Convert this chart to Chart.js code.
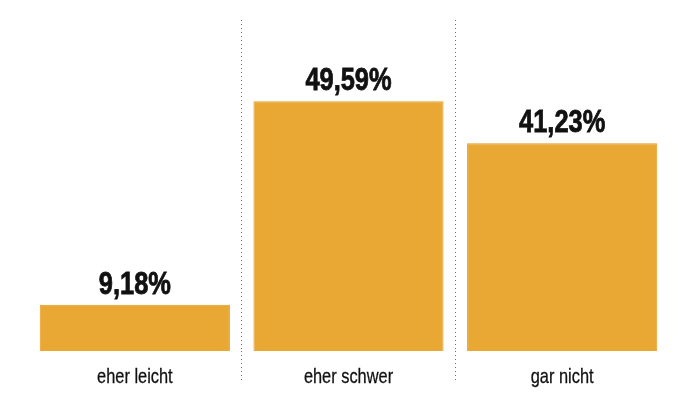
<!DOCTYPE html>
<html>
<head>
<meta charset="utf-8">
<script src="https://cdn.jsdelivr.net/npm/chart.js@4/dist/chart.umd.min.js"></script>
<style>
  html, body { margin: 0; padding: 0; background: #fff; }
  #wrap { width: 700px; height: 393px; position: relative; }
</style>
</head>
<body>
<div id="wrap"><canvas id="chart"></canvas></div>
<script>
/* ── 데이터 ── */
var categories = ['eher leicht', 'eher schwer', 'gar nicht'];
var values = [9.18, 49.59, 41.23];
var valueLabels = ['9,18%', '49,59%', '41,23%'];

var FONT = '"Liberation Sans", Arial, sans-serif';

// 좁은 글꼴 흉내 (가로 축소)
function drawNarrowText(ctx, text, x, y, squeeze, stroke) {
  ctx.save();
  ctx.translate(x, y);
  ctx.scale(squeeze, 1);
  ctx.fillText(text, 0, 0);
  if (stroke) {
    ctx.lineWidth = stroke;
    ctx.strokeStyle = ctx.fillStyle;
    ctx.strokeText(text, 0, 0);
  }
  ctx.restore();
}

/* ── 막대 위 값 + 카테고리 라벨 ── */
var labelPlugin = {
  id: 'barLabels',
  afterDatasetsDraw: function(chart) {
    var ctx = chart.ctx;
    var meta = chart.getDatasetMeta(0);
    var area = chart.chartArea;
    ctx.save();
    ctx.fillStyle = '#111';
    ctx.textAlign = 'center';
    ctx.textBaseline = 'alphabetic';
    meta.data.forEach(function(bar, i) {
      ctx.font = 'bold 31px ' + FONT;
      drawNarrowText(ctx, valueLabels[i], bar.x, bar.y - 11, 0.82, 0.8);
      ctx.font = '21px ' + FONT;
      drawNarrowText(ctx, categories[i], bar.x, area.bottom + 32, 0.78, 0.3);
    });
    ctx.restore();
  }
};

function sepColor(c) {
  // 양 끝 격자선은 숨김
  if (c.type !== 'tick' || c.index === 0) return 'rgba(0,0,0,0)';
  return '#6f6f6f';
}

new Chart(document.getElementById('chart').getContext('2d'), {
  type: 'bar',
  data: {
    labels: categories,
    datasets: [{
      data: values,
      backgroundColor: '#e9a833',
      borderColor: '#e89a1c',
      borderWidth: 1,
      barPercentage: 0.89,
      categoryPercentage: 1
    }]
  },
  options: {
    responsive: true,
    maintainAspectRatio: false,
    animation: false,
    layout: { padding: { left: 28, right: 31, top: 20, bottom: 11 } },
    plugins: {
      legend: { display: false },
      tooltip: { enabled: false }
    },
    scales: {
      x: {
        offset: true,
        border: { display: false, dash: [1, 3] },
        grid: {
          offset: true,
          color: sepColor,
          tickColor: sepColor,
          tickBorderDash: [1, 3],
          tickLength: 31,
          lineWidth: 1
        },
        ticks: { display: false }
      },
      y: {
        display: false,
        min: 0,
        max: 65.7
      }
    }
  },
  plugins: [labelPlugin]
});
</script>
</body>
</html>
